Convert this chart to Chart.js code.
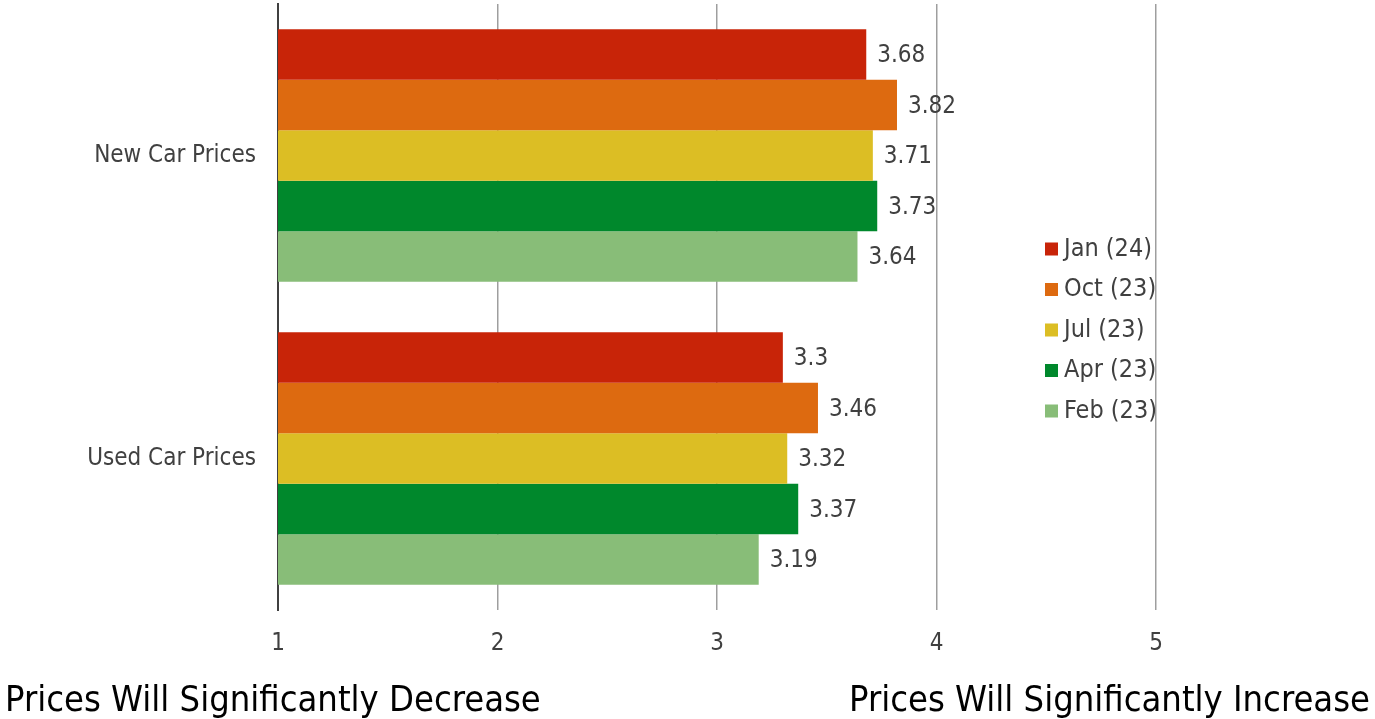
<!DOCTYPE html>
<html>
<head>
<meta charset="utf-8">
<script src="https://cdn.jsdelivr.net/npm/chart.js@4.4.1/dist/chart.umd.min.js"></script>
<style>
  html, body { margin: 0; padding: 0; background: #fff; }
  #wrap { position: relative; width: 1375px; height: 719px; overflow: hidden; }
  #grafica { position: absolute; left: 0; top: 0; }
  .pie { position: absolute; font-family: "DejaVu Sans Condensed", "DejaVu Sans", sans-serif; font-size: 36px; line-height: 1; color: #000; white-space: nowrap; top: 681px; }
  #izq { left: 5px; }
  #der { right: 5px; }
</style>
</head>
<body>
<div id="wrap">
  <canvas id="grafica" width="1375" height="719"></canvas>
  <div class="pie" id="izq">Prices Will Significantly Decrease</div>
  <div class="pie" id="der">Prices Will Significantly Increase</div>
</div>
<script>
const categorias = ['New Car Prices', 'Used Car Prices'];
const periodos = ['Jan (24)', 'Oct (23)', 'Jul (23)', 'Apr (23)', 'Feb (23)'];
const colores = ['rgb(200, 36, 8)', 'rgb(221, 106, 16)', 'rgb(220, 190, 36)', 'rgb(0, 136, 44)', 'rgb(136, 189, 120)'];
const valoresJan = [3.68, 3.3];
const valoresOct = [3.82, 3.46];
const valoresJul = [3.71, 3.32];
const valoresApr = [3.73, 3.37];
const valoresFeb = [3.64, 3.19];
const ticksX = [1, 2, 3, 4, 5];

const fuente = '"DejaVu Sans Condensed", "DejaVu Sans", sans-serif';
const gris = '#404040';

const series = [valoresJan, valoresOct, valoresJul, valoresApr, valoresFeb];

// etiquetas con el valor al final de cada barra
const etiquetasValor = {
    id: 'etiquetasValor',
    afterDatasetsDraw(chart) {
        const ctx = chart.ctx;
        ctx.save();
        ctx.font = '24px ' + fuente;
        ctx.fillStyle = gris;
        ctx.textAlign = 'left';
        ctx.textBaseline = 'middle';
        chart.data.datasets.forEach((ds, i) => {
            chart.getDatasetMeta(i).data.forEach((bar, j) => {
                ctx.fillText(String(ds.data[j]), bar.x + 11, bar.y + 1.5);
            });
        });
        ctx.restore();
    }
};

// leyenda dibujada dentro del area del grafico
const leyenda = {
    id: 'leyenda',
    afterDraw(chart) {
        const ctx = chart.ctx;
        ctx.save();
        ctx.font = '25px ' + fuente;
        ctx.textAlign = 'left';
        ctx.textBaseline = 'middle';
        chart.data.datasets.forEach((ds, i) => {
            const y = 249 + i * 40.5;
            ctx.fillStyle = ds.backgroundColor;
            ctx.fillRect(1045, y - 6.5, 13, 13);
            ctx.fillStyle = gris;
            ctx.fillText(ds.label, 1064, y);
        });
        ctx.restore();
    }
};

new Chart(document.getElementById('grafica'), {
    type: 'bar',
    data: {
        labels: categorias,
        datasets: periodos.map((p, i) => ({
            label: p,
            data: series[i],
            backgroundColor: colores[i],
            borderWidth: 0,
            barPercentage: 1,
            categoryPercentage: 0.834
        }))
    },
    options: {
        indexAxis: 'y',
        responsive: false,
        animation: false,
        layout: { padding: { top: 4, right: 219, left: 0, bottom: 0 } },
        plugins: {
            legend: { display: false },
            tooltip: { enabled: false }
        },
        scales: {
            x: {
                min: 1,
                max: 5,
                z: 1,
                afterBuildTicks: s => { s.ticks = ticksX.map(v => ({ value: v })); },
                afterFit: s => { s.height = 109; s.paddingLeft = 0; s.paddingRight = 0; },
                grid: { color: 'rgba(0, 0, 0, 0.38)', lineWidth: 1.5, drawTicks: false },
                border: { display: false },
                ticks: { color: gris, font: { family: fuente, size: 24 }, padding: 19 }
            },
            y: {
                z: 1,
                afterFit: s => { s.width = 278; s.paddingTop = 0; s.paddingBottom = 0; },
                grid: { display: false, drawTicks: false },
                border: { color: gris, width: 2 },
                ticks: { color: gris, font: { family: fuente, size: 24 }, padding: 22 }
            }
        }
    },
    plugins: [etiquetasValor, leyenda]
});
</script>
</body>
</html>
